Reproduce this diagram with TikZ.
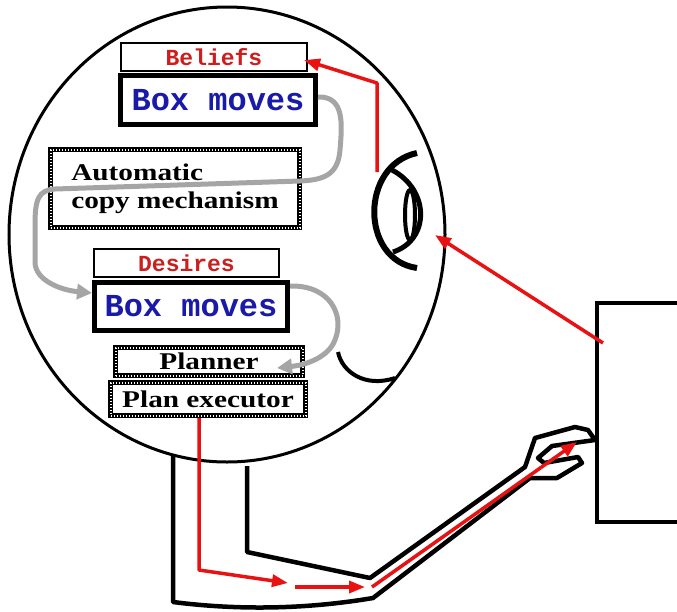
\documentclass[tikz,border=0pt]{standalone}
\usepackage{fontspec}
\setmainfont{Liberation Serif}
\newfontfamily\wideserif[FakeStretch=1.22]{Liberation Serif}
\newfontfamily\codefont{Liberation Mono}
\usetikzlibrary{arrows.meta}
\definecolor{labelred}{RGB}{205,30,30}
\definecolor{boxblue}{RGB}{25,25,170}
\definecolor{signalred}{RGB}{232,18,18}
\definecolor{flowgray}{RGB}{165,165,165}

\begin{document}
\begin{tikzpicture}[x=1pt,y=-1pt,
  labelbox/.style={draw, line width=2pt, fill=white, inner sep=0pt, text=labelred,
    font=\codefont\bfseries\fontsize{23}{26}\selectfont},
  contentbox/.style={draw, line width=5pt, fill=white, inner sep=0pt, text=boxblue,
    font=\codefont\bfseries\fontsize{32}{36}\selectfont},
  hatchbox/.style={draw, line width=5pt, fill=white, inner sep=0pt, align=left,
    font=\wideserif\bfseries\fontsize{24}{28}\selectfont,
    postaction={draw, white, line width=2pt, dash pattern=on 0.7pt off 2.3pt}},
  signal/.style={signalred, line width=3.5pt, line join=round, -{Triangle[length=16pt,width=12pt]}},
  flow/.style={flowgray, line width=5pt, -{Triangle[length=15pt,width=15pt]}},
  outline/.style={line width=4.5pt, line join=round}
]
\path[use as bounding box, fill=white] (0,0) rectangle (677,611);

\draw[line width=3pt] (227,234.5) ellipse [x radius=218pt, y radius=227.5pt];

\draw[outline] (247,466)--(247,552)--(370,578)--(525,467)--(535,438)--(575,427)--(588,430)--(595,440)
  --(552,446)--(538,458)--(544,463)--(578,457)--(582,463)--(557,478)--(530,478)--(373,598)
  .. controls (290,612) and (220,608) .. (173,602)--(173,456);

\node[draw, line width=4pt, anchor=north west, minimum width=100pt, minimum height=219pt] (world) at (595,301) {};

\draw[line width=6pt] (417,153) .. controls (360,165) and (360,260) .. (417,268);
\draw[line width=5pt] (392,170) .. controls (430,190) and (430,240) .. (393,252);
\draw[line width=4pt] (410,215) ellipse [x radius=5pt, y radius=25pt];
\draw[line width=4pt] (338,352) .. controls (342,372) and (365,388) .. (395,378);
\coordinate (eye) at (435,235);
\coordinate (eyetop) at (377,172);
\coordinate (glance) at (603,343);

\node[labelbox, minimum width=186pt, minimum height=28pt] (beliefs) at (214,57) {Beliefs};
\node[contentbox, minimum width=195pt, minimum height=49pt] (bmoves1) at (218,100) {Box moves};
\node[hatchbox, minimum width=249pt, minimum height=78pt] (autocopy) at (175,188.5) {Automatic\\copy mechanism};
\node[labelbox, minimum width=185pt, minimum height=28pt] (desires) at (186.5,263) {Desires};
\node[contentbox, minimum width=193pt, minimum height=48pt] (bmoves2) at (191,306.5) {Box moves};
\node[hatchbox, minimum width=187pt, minimum height=28pt] (planner) at (209,361.5) {Planner};
\node[hatchbox, minimum width=195pt, minimum height=33pt] (executor) at (208,399) {Plan executor};

\draw[flow] ([yshift=3pt]bmoves1.east) .. controls (345,96) and (342,125) .. (340,150)
  .. controls (338,176) and (322,180) .. (300,181) -- (55,189)
  .. controls (38,190) and (35,200) .. (35,225) -- (35,262)
  .. controls (35,280) and (60,290) .. ([yshift=-13pt]bmoves2.north west);
\draw[flow] ([yshift=-6pt]bmoves2.north east) .. controls (330,285) and (345,315) .. (335,340)
  .. controls (328,358) and (305,365) .. (277,368);

\draw[signal] (glance) -- (eye);
\draw[signal] (eyetop) -- (377,83) -- ([xshift=-4pt,yshift=-3pt]beliefs.east);
\draw[signal] ([xshift=-9pt]executor.south) -- (199,570) -- (288,583);
\draw[signal] (295,587) -- (365,587);
\draw[signal] (372,587) -- (577,442);
\end{tikzpicture}
\end{document}
